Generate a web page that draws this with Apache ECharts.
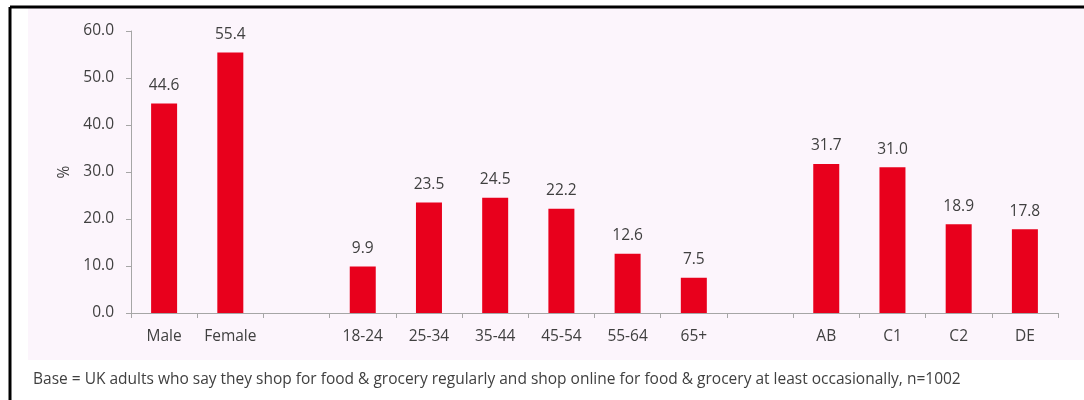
<!DOCTYPE html>
<html>
<head>
<meta charset="utf-8">
<style>
  html, body { margin: 0; padding: 0; background: #ffffff; }
  #chart { width: 1084px; height: 400px; }
</style>
<script src="https://cdn.jsdelivr.net/npm/echarts@6/dist/echarts.min.js"></script>
</head>
<body>
<div id="chart"></div>
<script>
// Online grocery shoppers by gender, age group and social grade (%)
const categories = ['Male', 'Female', '', '18-24', '25-34', '35-44', '45-54', '55-64', '65+', '', 'AB', 'C1', 'C2', 'DE'];
const shareValues = [44.6, 55.4, null, 9.9, 23.5, 24.5, 22.2, 12.6, 7.5, null, 31.7, 31.0, 18.9, 17.8];
const yTicks = [0, 10, 20, 30, 40, 50, 60];
const footnote = 'Base = UK adults who say they shop for food & grocery regularly and shop online for food & grocery at least occasionally, n=1002';

const textColor = '#404040';
const axisColor = '#a6a6a6';
const font = 'Open Sans';
const fontSize = 15.5;

const chart = echarts.init(document.getElementById('chart'), null, { renderer: 'canvas' });

chart.setOption({
  animation: false,
  backgroundColor: '#ffffff',
  graphic: [
    { type: 'rect', z: -10, shape: { x: 28, y: 8, width: 1056, height: 352 }, style: { fill: '#fcf5fc' } },
    { type: 'line', z: 10, shape: { x1: 10, y1: 7, x2: 1084, y2: 7 }, style: { stroke: '#000000', lineWidth: 3 } },
    { type: 'line', z: 10, shape: { x1: 10, y1: 7, x2: 10, y2: 400 }, style: { stroke: '#000000', lineWidth: 3 } },
    {
      type: 'text', left: 33, top: 372,
      style: { text: footnote, fill: textColor, font: fontSize + 'px "' + font + '"' }
    }
  ],
  grid: { left: 131, right: 26, top: 31, bottom: 87, containLabel: false },
  xAxis: {
    type: 'category',
    data: categories,
    axisLine: { lineStyle: { color: axisColor, width: 1 } },
    axisTick: { show: true, length: 5, lineStyle: { color: axisColor } },
    axisLabel: { color: textColor, fontFamily: font, fontSize: fontSize, margin: 16, interval: 0 }
  },
  yAxis: {
    type: 'value',
    min: yTicks[0],
    max: yTicks[yTicks.length - 1],
    interval: 10,
    name: '%',
    nameLocation: 'middle',
    nameGap: 56,
    nameRotate: 90,
    nameTextStyle: { color: textColor, fontFamily: font, fontSize: fontSize },
    axisLine: { show: true, lineStyle: { color: axisColor, width: 1 } },
    axisTick: { show: true, length: 5, inside: false, lineStyle: { color: axisColor } },
    splitLine: { show: false },
    axisLabel: {
      color: textColor, fontFamily: font, fontSize: fontSize, margin: 17,
      formatter: v => v.toFixed(1)
    }
  },
  series: [{
    type: 'bar',
    data: shareValues,
    barWidth: 26,
    itemStyle: { color: '#e8001c' },
    label: {
      show: true,
      position: 'top',
      distance: 10,
      color: textColor,
      fontFamily: font,
      fontSize: fontSize,
      formatter: p => (p.value == null ? '' : Number(p.value).toFixed(1))
    }
  }]
});
</script>
</body>
</html>
